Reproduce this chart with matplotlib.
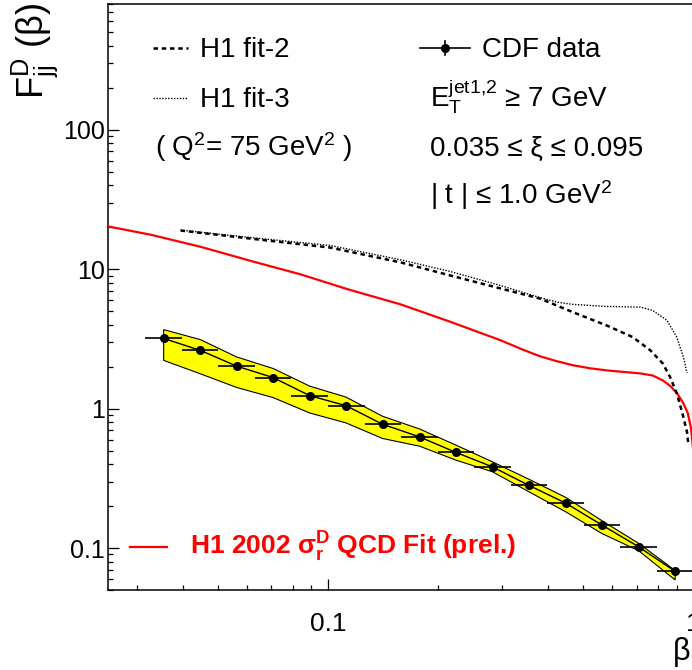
import matplotlib
matplotlib.use("Agg")
import matplotlib.pyplot as plt
from matplotlib.lines import Line2D
from matplotlib.patches import Polygon
from matplotlib.ticker import LogLocator, FuncFormatter, NullFormatter

plt.rcParams['font.family'] = ['Liberation Sans', 'DejaVu Sans']
plt.rcParams['mathtext.fontset'] = 'custom'
plt.rcParams['mathtext.rm'] = 'Liberation Sans'
plt.rcParams['mathtext.it'] = 'Liberation Sans:italic'
plt.rcParams['mathtext.bf'] = 'Liberation Sans:bold'

# ---- CDF diffractive dijet data ----
beta_c = [0.0355, 0.0447, 0.0562, 0.0708, 0.0891, 0.112, 0.141, 0.178,
          0.224, 0.282, 0.355, 0.447, 0.562, 0.708, 0.891]
beta_lo = [0.0316, 0.0398, 0.0501, 0.0631, 0.0794, 0.100, 0.126, 0.158,
           0.200, 0.251, 0.316, 0.398, 0.501, 0.631, 0.794]
beta_hi = [0.0398, 0.0501, 0.0631, 0.0794, 0.100, 0.126, 0.158, 0.200,
           0.251, 0.316, 0.398, 0.501, 0.631, 0.794, 1.000]
F_cdf = [3.19, 2.62, 2.02, 1.67, 1.24, 1.05, 0.773, 0.627,
         0.485, 0.382, 0.281, 0.210, 0.146, 0.102, 0.068]
band_hi = [3.69, 3.13, 2.35, 1.94, 1.45, 1.21, 0.882, 0.715,
           0.547, 0.415, 0.311, 0.231, 0.157, 0.108, 0.069]
band_lo = [2.22, 1.78, 1.42, 1.20, 0.931, 0.790, 0.611, 0.538,
           0.427, 0.352, 0.253, 0.182, 0.127, 0.0956, 0.059]

# ---- H1 2002 sigma_r^D QCD fit ----
beta_red = [0.025, 0.0327, 0.0448, 0.0613, 0.084, 0.115, 0.158, 0.216,
            0.296, 0.34, 0.381, 0.42, 0.467, 0.52, 0.58, 0.715, 0.773,
            0.826, 0.865, 0.901, 0.935, 0.9645, 0.985, 0.996]
F_red = [20.3, 17.7, 14.5, 11.5, 9.2, 7.1, 5.6, 4.2,
         3.1, 2.66, 2.37, 2.20, 2.05, 1.95, 1.88, 1.79, 1.73,
         1.59, 1.45, 1.29, 1.11, 0.93, 0.72, 0.53]

# ---- H1 fit-2 ----
beta_f2 = [0.0395, 0.0613, 0.1015, 0.158, 0.216, 0.296, 0.381, 0.467,
           0.579, 0.682, 0.762, 0.824, 0.8625, 0.90, 0.9325, 0.960, 0.967]
F_f2 = [18.96, 16.6, 14.3, 11.2, 9.03, 7.29, 6.15, 4.93,
        3.95, 3.26, 2.62, 2.11, 1.69, 1.29, 0.927, 0.678, 0.574]

# ---- H1 fit-3 ----
beta_f3 = [0.0395, 0.0613, 0.1015, 0.158, 0.216, 0.296, 0.381, 0.423,
           0.467, 0.579, 0.715, 0.773, 0.846, 0.90, 0.938, 0.960]
F_f3 = [19.1, 16.9, 14.8, 11.7, 9.64, 7.66, 6.25, 5.81,
        5.60, 5.41, 5.35, 5.07, 4.30, 3.26, 2.35, 1.80]

W, H = 692, 670
fig = plt.figure(figsize=(W / 100, H / 100), dpi=100)
ax = fig.add_axes([108 / W, 1 - 590 / H, (693.5 - 108) / W, (590 - 4) / H])


def fx(px):
    return px / W


def fy(py):
    return 1 - py / H


ax.set_xscale('log')
ax.set_yscale('log')
ax.set_xlim(0.025, 1.0)
ax.set_ylim(0.05, 800)

# uncertainty band
band_pts = list(zip(beta_c, band_hi)) + list(zip(beta_c[::-1], band_lo[::-1]))
ax.add_patch(Polygon(band_pts, closed=True, facecolor='#ffff00',
                     edgecolor='black', linewidth=0.8, zorder=2))

# data points
xerr = [[c - lo for c, lo in zip(beta_c, beta_lo)],
        [hi - c for c, hi in zip(beta_c, beta_hi)]]
ax.plot(beta_c, F_cdf, color='black', lw=1.0, zorder=3)
ax.errorbar(beta_c, F_cdf, xerr=xerr, fmt='o', color='black', ms=5.5,
            elinewidth=1.2, capsize=0, zorder=4)

# model curves
ax.plot(beta_red, F_red, color='#ff0000', lw=1.6, zorder=3)
ax.plot(beta_f2, F_f2, color='black', lw=1.8, dashes=(1.8, 1.5), zorder=3)
ax.plot(beta_f3, F_f3, color='black', lw=1.0, dashes=(1.0, 1.1), zorder=3)

# axes styling
for s in ax.spines.values():
    s.set_linewidth(1.1)
ax.tick_params(which='both', direction='in', top=False, right=False,
               width=0.9, colors='black')
ax.tick_params(which='major', length=8)
ax.tick_params(which='minor', length=3.8)
ax.tick_params(axis='x', which='major', pad=16, labelsize=19)
ax.tick_params(axis='y', which='major', pad=2.5, labelsize=18)
ax.xaxis.set_major_locator(LogLocator(base=10, numticks=10))
ax.yaxis.set_major_locator(LogLocator(base=10, numticks=10))
ax.xaxis.set_minor_locator(LogLocator(base=10, subs=range(2, 10), numticks=20))
ax.yaxis.set_minor_locator(LogLocator(base=10, subs=range(2, 10), numticks=20))
fmt = FuncFormatter(lambda v, p: '%g' % v)
ax.xaxis.set_major_formatter(fmt)
ax.yaxis.set_major_formatter(fmt)
ax.xaxis.set_minor_formatter(NullFormatter())
ax.yaxis.set_minor_formatter(NullFormatter())

# axis titles
fig.text(fx(35), fy(3), r'$\mathrm{F}_{\mathrm{jj}}^{\mathrm{D}}$ (β)', rotation=90,
         ha='center', va='top', fontsize=26)
fig.text(fx(682), fy(652), 'β', ha='center', va='center', fontsize=22)

# legend: model curves
fs = 20
fig.add_artist(Line2D([fx(153), fx(188)], [fy(48), fy(48)], color='black',
                      lw=1.8, dashes=(1.8, 1.5)))
fig.text(fx(200), fy(57), 'H1 fit-2', fontsize=fs, va='baseline')
fig.add_artist(Line2D([fx(153), fx(188)], [fy(98), fy(98)], color='black',
                      lw=1.0, dashes=(1.0, 1.1)))
fig.text(fx(200), fy(107), 'H1 fit-3', fontsize=fs, va='baseline')
fig.text(fx(155), fy(156), r'( Q$^{2}$= 75 GeV$^{2}$ )', fontsize=fs, va='baseline')

# legend: data and cuts
fig.add_artist(Line2D([fx(420), fx(470)], [fy(48), fy(48)], color='black', lw=1.2))
fig.add_artist(Line2D([fx(445), fx(445)], [fy(41), fy(55)], color='black', lw=1.2))
fig.add_artist(Line2D([fx(445)], [fy(48)], marker='o', color='black', ms=5.5))
fig.text(fx(482), fy(57), 'CDF data', fontsize=fs, va='baseline')
fig.text(fx(430), fy(107), r'E$_{\mathrm{T}}^{\mathrm{jet1{,}2}}$ ≥ 7 GeV',
         fontsize=fs, va='baseline')
fig.text(fx(430), fy(156), '0.035 ≤ ξ ≤ 0.095', fontsize=fs, va='baseline')
fig.text(fx(430), fy(204), r'| t | ≤ 1.0 GeV$^{2}$', fontsize=fs, va='baseline')

# legend: H1 QCD fit
fig.add_artist(Line2D([fx(130), fx(167)], [fy(547), fy(547)], color='#ff0000', lw=1.6))
fig.text(fx(190), fy(555), r'H1 2002 σ$_{\mathbf{r}}^{\mathbf{D}}$ QCD Fit (prel.)',
         color='#ff0000', fontsize=19, fontweight='bold', va='baseline')

fig.savefig('out.png', dpi=100)
